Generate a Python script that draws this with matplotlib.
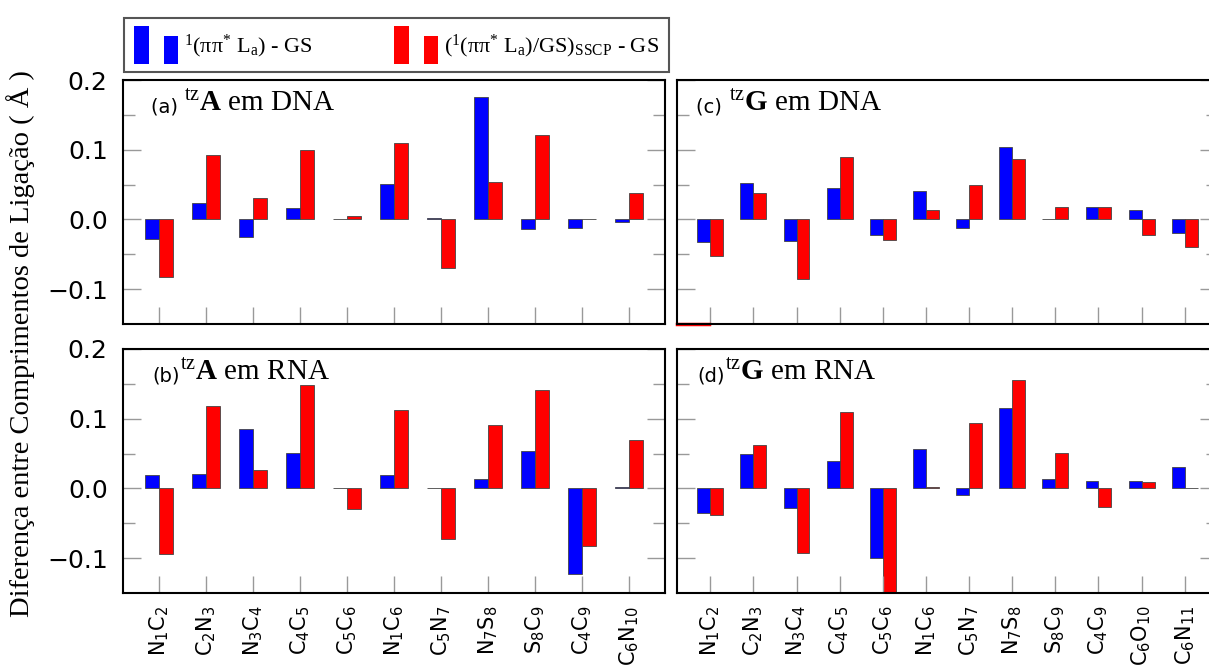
import matplotlib
matplotlib.use('Agg')
import matplotlib.pyplot as plt
from matplotlib.patches import Rectangle
from matplotlib.legend_handler import HandlerBase
from matplotlib.ticker import FuncFormatter

plt.rcParams['mathtext.fontset'] = 'custom'
plt.rcParams['mathtext.rm'] = 'Liberation Serif'
plt.rcParams['mathtext.it'] = 'Liberation Serif:italic'
plt.rcParams['mathtext.bf'] = 'Liberation Serif:bold'
plt.rcParams['mathtext.sf'] = 'DejaVu Sans'

# ligações
lig_A = [r'$\mathsf{N_1C_2}$', r'$\mathsf{C_2N_3}$', r'$\mathsf{N_3C_4}$', r'$\mathsf{C_4C_5}$',
         r'$\mathsf{C_5C_6}$', r'$\mathsf{N_1C_6}$', r'$\mathsf{C_5N_7}$', r'$\mathsf{N_7S_8}$',
         r'$\mathsf{S_8C_9}$', r'$\mathsf{C_4C_9}$', r'$\mathsf{C_6N_{10}}$']
lig_G = [r'$\mathsf{N_1C_2}$', r'$\mathsf{C_2N_3}$', r'$\mathsf{N_3C_4}$', r'$\mathsf{C_4C_5}$',
         r'$\mathsf{C_5C_6}$', r'$\mathsf{N_1C_6}$', r'$\mathsf{C_5N_7}$', r'$\mathsf{N_7S_8}$',
         r'$\mathsf{S_8C_9}$', r'$\mathsf{C_4C_9}$', r'$\mathsf{C_6O_{10}}$', r'$\mathsf{C_6N_{11}}$']

# (a) tzA em DNA
a_ex = [-0.028, 0.024, -0.025, 0.016, 0.0, 0.051, 0.002, 0.175, -0.014, -0.012, -0.003]
a_sscp = [-0.083, 0.093, 0.031, 0.099, 0.005, 0.110, -0.070, 0.054, 0.121, 0.0, 0.038]
# (b) tzA em RNA
b_ex = [0.019, 0.020, 0.085, 0.051, 0.0, 0.019, 0.0, 0.014, 0.053, -0.123, 0.002]
b_sscp = [-0.094, 0.118, 0.027, 0.149, -0.030, 0.112, -0.073, 0.091, 0.141, -0.083, 0.069]
# (c) tzG em DNA
c_ex = [-0.033, 0.052, -0.031, 0.045, -0.023, 0.041, -0.013, 0.104, 0.0, 0.018, 0.014, -0.020]
c_sscp = [-0.053, 0.038, -0.085, 0.089, -0.030, 0.014, 0.050, 0.087, 0.018, 0.018, -0.023, -0.040]
# (d) tzG em RNA
d_ex = [-0.035, 0.049, -0.028, 0.039, -0.100, 0.056, -0.010, 0.116, 0.013, 0.010, 0.011, 0.031]
d_sscp = [-0.038, 0.062, -0.092, 0.109, -0.160, 0.002, 0.094, 0.155, 0.051, -0.027, 0.009, 0.0]

W, H = 1209, 669
fig = plt.figure(figsize=(W / 100, H / 100), dpi=100)


def caixa(l, r, t, b):
    return [l / W, 1 - b / H, (r - l) / W, (b - t) / H]


def fmt(v, pos):
    if abs(v) < 1e-9:
        v = 0.0
    return f'{v:.1f}'.replace('-', '\u2212')


def painel(pos, ex, sscp, labels, rotulo, base, meio, xt, esquerda, baixo):
    ax = fig.add_axes(pos)
    x = list(range(len(labels)))
    w = 0.3
    ax.bar([i - w / 2 for i in x], ex, w, color='#0000ff', edgecolor='#444444', linewidth=0.6)
    ax.bar([i + w / 2 for i in x], sscp, w, color='#ff0000', edgecolor='#444444', linewidth=0.6)
    ax.set_xlim(-0.77, len(labels) - 0.23)
    ax.set_ylim(-0.15, 0.2)
    ax.set_yticks([-0.1, 0.0, 0.1, 0.2])
    ax.set_yticks([-0.05, 0.05, 0.15], minor=True)
    ax.yaxis.set_major_formatter(FuncFormatter(fmt))
    ax.set_xticks(x)
    if baixo:
        ax.set_xticklabels(labels, rotation=90, fontsize=15)
    else:
        ax.set_xticklabels([])
    ax.tick_params(axis='y', which='major', direction='in', left=True, right=True,
                   length=13, width=1, color='#999999', labelsize=18, pad=11,
                   labelleft=esquerda)
    ax.tick_params(axis='y', which='minor', direction='in', left=True, right=True,
                   length=8.5, width=1, color='#999999')
    ax.tick_params(axis='x', direction='in', bottom=True, top=False, length=12, width=1,
                   color='#999999', pad=9)
    for s in ax.spines.values():
        s.set_linewidth(1.5)
    t = ax.text(xt, 0.865, rotulo, transform=ax.transAxes,
                family='DejaVu Sans', fontsize=14, va='baseline')
    ax.annotate(r'${}^{\mathrm{tz}}\mathbf{' + base + '}$ em ' + meio, xy=(1, 0), xycoords=t,
                family='Liberation Serif', fontsize=21, va='bottom', ha='left')
    return ax


ax_a = painel(caixa(123, 665, 80, 324), a_ex, a_sscp, lig_A, '(a) ', 'A', 'DNA', 0.052, True, False)
ax_b = painel(caixa(123, 665, 349, 593), b_ex, b_sscp, lig_A, '(b)', 'A', 'RNA', 0.055, True, True)
ax_c = painel(caixa(677, 1218, 80, 324), c_ex, c_sscp, lig_G, '(c) ', 'G', 'DNA', 0.036, False, False)
ax_d = painel(caixa(677, 1218, 349, 593), d_ex, d_sscp, lig_G, '(d)', 'G', 'RNA', 0.038, False, True)

# traço vermelho no canto de (c)
ax_c.axhline(-0.15, xmin=0, xmax=0.06, color='#ff0000', linewidth=2.5, clip_on=False)

fig.text(0.017, 0.487, 'Diferença entre Comprimentos de Ligação ( Å )', rotation=90,
         family='Liberation Serif', fontsize=20.5, ha='center', va='center')


class DuasBarras(HandlerBase):
    def create_artists(self, legend, orig, xd, yd, w, h, fontsize, trans):
        bw = w * 0.33
        fc = orig.get_facecolor()
        y0 = -yd - h * 0.05
        r1 = Rectangle((-xd, y0), bw, h * 1.1, facecolor=fc, edgecolor='none', transform=trans)
        r2 = Rectangle((-xd + w - bw, y0), bw, h * 0.8, facecolor=fc, edgecolor='none',
                       transform=trans)
        return [r1, r2]


h1 = Rectangle((0, 0), 1, 1, facecolor='#0000ff')
h2 = Rectangle((0, 0), 1, 1, facecolor='#ff0000')
leg = fig.legend([h1, h2],
                 [r'$^{1}$(ππ$^{*}$ L$_{\mathrm{a}}$) - GS',
                  r'($^{1}$(ππ$^{*}$ L$_{\mathrm{a}}$)/GS)$_{\mathrm{SSCP}}$ - GS'],
                 handler_map={Rectangle: DuasBarras()}, ncol=2, mode='expand',
                 loc='center left', bbox_to_anchor=(124 / W, 1 - 78 / H, 545 / W, 66 / H),
                 prop={'family': 'Liberation Serif', 'size': 16}, handlelength=2.0,
                 handleheight=2.0, handletextpad=0.25, borderpad=0.45, borderaxespad=0,
                 fancybox=False, framealpha=1, edgecolor='#555555')
leg.get_frame().set_linewidth(1.5)

fig.savefig('out.png', dpi=100)
